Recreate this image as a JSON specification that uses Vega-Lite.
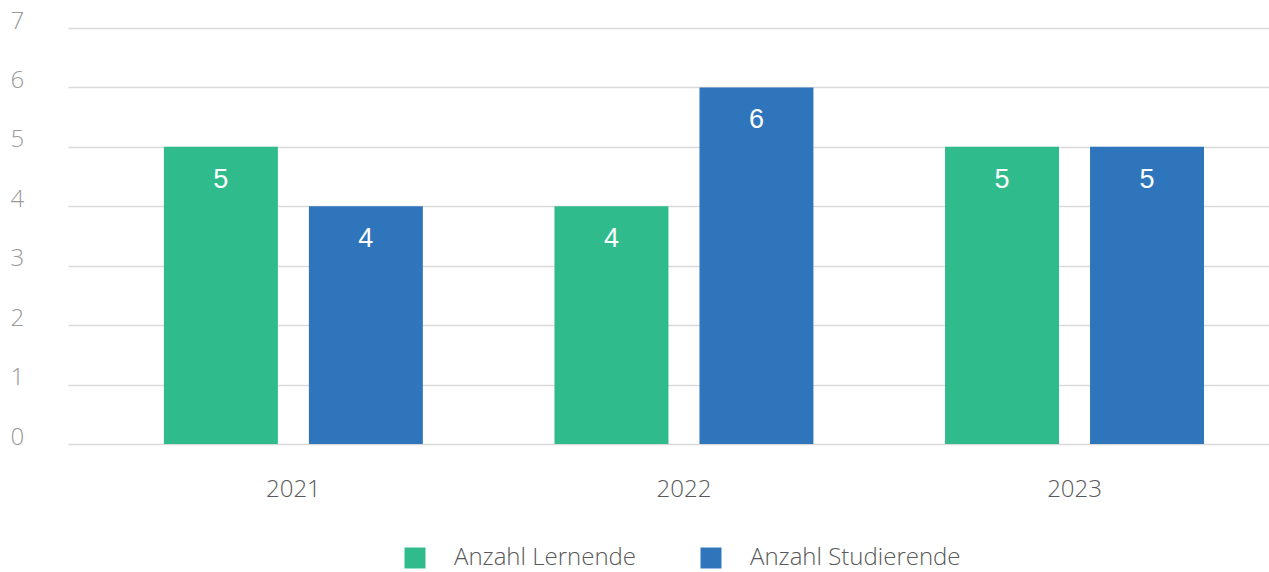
{
  "$schema": "https://vega.github.io/schema/vega-lite/v6.json",
  "width": 1201,
  "height": 416,
  "autosize": {"type": "none"},
  "padding": {"left": 68, "top": 28, "right": 0, "bottom": 128},
  "background": "white",
  "config": {
    "view": {"stroke": null},
    "font": "Open Sans"
  },
  "data": {
    "values": [
      {"year": "2021", "series": "Anzahl Lernende", "value": 5},
      {"year": "2021", "series": "Anzahl Studierende", "value": 4},
      {"year": "2022", "series": "Anzahl Lernende", "value": 4},
      {"year": "2022", "series": "Anzahl Studierende", "value": 6},
      {"year": "2023", "series": "Anzahl Lernende", "value": 5},
      {"year": "2023", "series": "Anzahl Studierende", "value": 5}
    ]
  },
  "encoding": {
    "x": {
      "field": "year", "type": "nominal",
      "scale": {"paddingInner": 0.337, "paddingOuter": 0.206, "align": 0.596},
      "axis": {
        "title": null, "labelAngle": 0, "ticks": false, "domain": false,
        "labelFontSize": 24, "labelColor": "#595959", "labelFont": "Open Sans",
        "labelFontWeight": 300, "labelPadding": 33, "grid": false
      }
    },
    "xOffset": {
      "field": "series", "type": "nominal",
      "scale": {"paddingInner": 0.214, "paddingOuter": 0}
    },
    "y": {
      "field": "value", "type": "quantitative",
      "scale": {"domain": [0, 7], "nice": false},
      "axis": {
        "title": null, "values": [0, 1, 2, 3, 4, 5, 6, 7], "ticks": false, "tickSize": 0,
        "domain": false, "grid": true, "gridColor": "#d9d9d9", "gridWidth": 1.5,
        "labelAlign": "left", "labelPadding": 58, "labelBaseline": "middle", "labelOffset": -7,
        "labelFontSize": 24, "labelColor": "#9a9a9a", "labelFont": "Open Sans", "labelFontWeight": 300
      }
    }
  },
  "layer": [
    {
      "mark": {"type": "bar"},
      "encoding": {
        "color": {
          "field": "series", "type": "nominal",
          "scale": {"domain": ["Anzahl Lernende", "Anzahl Studierende"], "range": ["#2fbb8b", "#2e75bb"]},
          "legend": {
            "title": null, "orient": "none", "direction": "horizontal",
            "legendX": 335, "legendY": 518,
            "symbolType": "square", "symbolSize": 440, "symbolStrokeWidth": 0,
            "labelFontSize": 24, "labelColor": "#595959", "labelFont": "Open Sans", "labelFontWeight": 300,
            "labelOffset": 27, "columnPadding": 62, "labelLimit": 0
          }
        }
      }
    },
    {
      "mark": {"type": "text", "baseline": "middle", "dy": 33, "fontSize": 27, "color": "white", "font": "Liberation Sans"},
      "encoding": {"text": {"field": "value", "type": "quantitative"}}
    }
  ]
}
